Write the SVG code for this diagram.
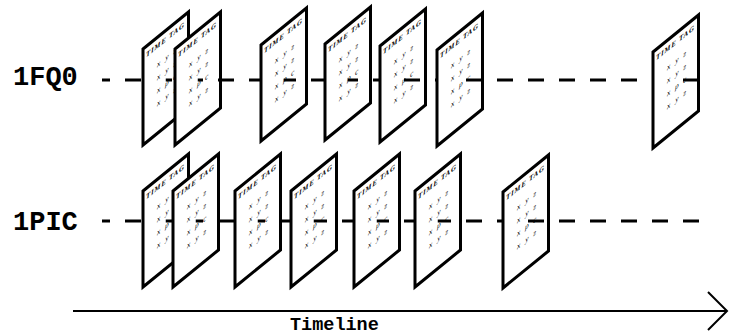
<svg xmlns="http://www.w3.org/2000/svg" width="739" height="336" viewBox="0 0 739 336">
<style>
.sheet{fill:#fff;stroke:#000;stroke-width:3;stroke-linejoin:miter}
.row{stroke:#000;stroke-width:3;stroke-dasharray:16 15;fill:none}
.tag{font-family:"Liberation Serif",serif;font-style:italic;font-weight:bold;font-size:7px;fill:#000}
.d{font-family:"Liberation Serif",serif;font-style:italic;font-size:7.5px;fill:#000;text-anchor:middle}
.lbl{font-family:"Liberation Mono","Courier New",monospace;font-weight:bold;font-size:27px;fill:#000}
.tl{font-family:"Liberation Mono","Courier New",monospace;font-weight:bold;font-size:18.5px;fill:#000}
</style>
<g id="connectors">
<line class="row" x1="102" y1="80" x2="699" y2="80" stroke-dashoffset="8"/>
<line class="row" x1="102" y1="221" x2="700" y2="221" stroke-dashoffset="8"/>
<line x1="73" y1="311" x2="727" y2="311" stroke="#000" stroke-width="2"/>
<polyline points="708,292 727,311 708,330" fill="none" stroke="#000" stroke-width="2"/>
</g>
<g id="label-1FQ0"><text class="lbl" x="13" y="85">1FQ0</text></g>
<g id="label-1PIC"><text class="lbl" x="13" y="230">1PIC</text></g>
<g id="label-timeline"><text class="tl" x="290" y="330">Timeline</text></g>

<g id="fq0-1">
<polygon class="sheet" points="143,49 188.5,12 188.5,108 143,145"/>
<g transform="translate(143,49) skewY(-39.12)"><text class="tag" x="3" y="11" textLength="38" lengthAdjust="spacing">TIME TAG</text><text class="d" x="15.7 24 31.7" y="30">xyz</text><text class="d" x="15.7 24 31.7" y="43">xyz</text><text class="d" x="15.7 24 31.7" y="56">xpc</text><text class="d" x="15.7 24 31.7" y="69">xyz</text></g>
<line class="row" x1="165.75" y1="80" x2="188.5" y2="80" stroke-dashoffset="9.75"/>
</g>
<g id="fq0-2">
<polygon class="sheet" points="175,49 220.5,12 220.5,108 175,145"/>
<g transform="translate(175,49) skewY(-39.12)"><text class="tag" x="3" y="11" textLength="38" lengthAdjust="spacing">TIME TAG</text><text class="d" x="15.7 24 31.7" y="30">xyz</text><text class="d" x="15.7 24 31.7" y="43">xyz</text><text class="d" x="15.7 24 31.7" y="56">xpc</text><text class="d" x="15.7 24 31.7" y="69">xyz</text></g>
<line class="row" x1="197.75" y1="80" x2="220.5" y2="80" stroke-dashoffset="10.75"/>
</g>
<g id="fq0-3">
<polygon class="sheet" points="261,45 306.5,8 306.5,104 261,141"/>
<g transform="translate(261,45) skewY(-39.12)"><text class="tag" x="3" y="11" textLength="38" lengthAdjust="spacing">TIME TAG</text><text class="d" x="15.7 24 31.7" y="30">xyz</text><text class="d" x="15.7 24 31.7" y="43">xyz</text><text class="d" x="15.7 24 31.7" y="56">xpc</text><text class="d" x="15.7 24 31.7" y="69">xyz</text></g>
<line class="row" x1="283.75" y1="80" x2="306.5" y2="80" stroke-dashoffset="3.75"/>
</g>
<g id="fq0-4">
<polygon class="sheet" points="325,44 370.5,7 370.5,103 325,140"/>
<g transform="translate(325,44) skewY(-39.12)"><text class="tag" x="3" y="11" textLength="38" lengthAdjust="spacing">TIME TAG</text><text class="d" x="15.7 24 31.7" y="30">xyz</text><text class="d" x="15.7 24 31.7" y="43">xyz</text><text class="d" x="15.7 24 31.7" y="56">xpc</text><text class="d" x="15.7 24 31.7" y="69">xyz</text></g>
<line class="row" x1="347.75" y1="80" x2="370.5" y2="80" stroke-dashoffset="5.75"/>
</g>
<g id="fq0-5">
<polygon class="sheet" points="380,46 425.5,9 425.5,105 380,142"/>
<g transform="translate(380,46) skewY(-39.12)"><text class="tag" x="3" y="11" textLength="38" lengthAdjust="spacing">TIME TAG</text><text class="d" x="15.7 24 31.7" y="30">xyz</text><text class="d" x="15.7 24 31.7" y="43">xyz</text><text class="d" x="15.7 24 31.7" y="56">xpc</text><text class="d" x="15.7 24 31.7" y="69">xyz</text></g>
<line class="row" x1="402.75" y1="80" x2="425.5" y2="80" stroke-dashoffset="29.75"/>
</g>
<g id="fq0-6">
<polygon class="sheet" points="437,50 482.5,13 482.5,109 437,146"/>
<g transform="translate(437,50) skewY(-39.12)"><text class="tag" x="3" y="11" textLength="38" lengthAdjust="spacing">TIME TAG</text><text class="d" x="15.7 24 31.7" y="30">xyz</text><text class="d" x="15.7 24 31.7" y="43">xyz</text><text class="d" x="15.7 24 31.7" y="56">xpc</text><text class="d" x="15.7 24 31.7" y="69">xyz</text></g>
<line class="row" x1="459.75" y1="80" x2="482.5" y2="80" stroke-dashoffset="24.75"/>
</g>
<g id="fq0-7">
<polygon class="sheet" points="653,52 698.5,15 698.5,111 653,148"/>
<g transform="translate(653,52) skewY(-39.12)"><text class="tag" x="3" y="11" textLength="38" lengthAdjust="spacing">TIME TAG</text><text class="d" x="15.7 24 31.7" y="30">xyz</text><text class="d" x="15.7 24 31.7" y="43">xyz</text><text class="d" x="15.7 24 31.7" y="56">xpc</text><text class="d" x="15.7 24 31.7" y="69">xyz</text></g>
<line class="row" x1="675.75" y1="80" x2="698.5" y2="80" stroke-dashoffset="23.75"/>
</g>

<g id="pic-1">
<polygon class="sheet" points="143,191 188.5,154 188.5,250 143,287"/>
<g transform="translate(143,191) skewY(-39.12)"><text class="tag" x="3" y="11" textLength="38" lengthAdjust="spacing">TIME TAG</text><text class="d" x="15.7 24 31.7" y="30">xyz</text><text class="d" x="15.7 24 31.7" y="43">xyz</text><text class="d" x="15.7 24 31.7" y="56">xpc</text><text class="d" x="15.7 24 31.7" y="69">xyz</text></g>
<line class="row" x1="165.75" y1="221" x2="188.5" y2="221" stroke-dashoffset="9.75"/>
</g>
<g id="pic-2">
<polygon class="sheet" points="173,191 218.5,154 218.5,250 173,287"/>
<g transform="translate(173,191) skewY(-39.12)"><text class="tag" x="3" y="11" textLength="38" lengthAdjust="spacing">TIME TAG</text><text class="d" x="15.7 24 31.7" y="30">xyz</text><text class="d" x="15.7 24 31.7" y="43">xyz</text><text class="d" x="15.7 24 31.7" y="56">xpc</text><text class="d" x="15.7 24 31.7" y="69">xyz</text></g>
<line class="row" x1="195.75" y1="221" x2="218.5" y2="221" stroke-dashoffset="8.75"/>
</g>
<g id="pic-3">
<polygon class="sheet" points="235,191 280.5,154 280.5,250 235,287"/>
<g transform="translate(235,191) skewY(-39.12)"><text class="tag" x="3" y="11" textLength="38" lengthAdjust="spacing">TIME TAG</text><text class="d" x="15.7 24 31.7" y="30">xyz</text><text class="d" x="15.7 24 31.7" y="43">xyz</text><text class="d" x="15.7 24 31.7" y="56">xpc</text><text class="d" x="15.7 24 31.7" y="69">xyz</text></g>
<line class="row" x1="257.75" y1="221" x2="280.5" y2="221" stroke-dashoffset="8.75"/>
</g>
<g id="pic-4">
<polygon class="sheet" points="291,191 336.5,154 336.5,250 291,287"/>
<g transform="translate(291,191) skewY(-39.12)"><text class="tag" x="3" y="11" textLength="38" lengthAdjust="spacing">TIME TAG</text><text class="d" x="15.7 24 31.7" y="30">xyz</text><text class="d" x="15.7 24 31.7" y="43">xyz</text><text class="d" x="15.7 24 31.7" y="56">xpc</text><text class="d" x="15.7 24 31.7" y="69">xyz</text></g>
<line class="row" x1="313.75" y1="221" x2="336.5" y2="221" stroke-dashoffset="2.75"/>
</g>
<g id="pic-5">
<polygon class="sheet" points="354,191 399.5,154 399.5,250 354,287"/>
<g transform="translate(354,191) skewY(-39.12)"><text class="tag" x="3" y="11" textLength="38" lengthAdjust="spacing">TIME TAG</text><text class="d" x="15.7 24 31.7" y="30">xyz</text><text class="d" x="15.7 24 31.7" y="43">xyz</text><text class="d" x="15.7 24 31.7" y="56">xpc</text><text class="d" x="15.7 24 31.7" y="69">xyz</text></g>
<line class="row" x1="376.75" y1="221" x2="399.5" y2="221" stroke-dashoffset="3.75"/>
</g>
<g id="pic-6">
<polygon class="sheet" points="415,191 460.5,154 460.5,250 415,287"/>
<g transform="translate(415,191) skewY(-39.12)"><text class="tag" x="3" y="11" textLength="38" lengthAdjust="spacing">TIME TAG</text><text class="d" x="15.7 24 31.7" y="30">xyz</text><text class="d" x="15.7 24 31.7" y="43">xyz</text><text class="d" x="15.7 24 31.7" y="56">xpc</text><text class="d" x="15.7 24 31.7" y="69">xyz</text></g>
<line class="row" x1="437.75" y1="221" x2="460.5" y2="221" stroke-dashoffset="2.75"/>
</g>
<g id="pic-7">
<polygon class="sheet" points="503,192 548.5,155 548.5,251 503,288"/>
<g transform="translate(503,192) skewY(-39.12)"><text class="tag" x="3" y="11" textLength="38" lengthAdjust="spacing">TIME TAG</text><text class="d" x="15.7 24 31.7" y="30">xyz</text><text class="d" x="15.7 24 31.7" y="43">xyz</text><text class="d" x="15.7 24 31.7" y="56">xpc</text><text class="d" x="15.7 24 31.7" y="69">xyz</text></g>
<line class="row" x1="525.75" y1="221" x2="548.5" y2="221" stroke-dashoffset="28.75"/>
</g>
</svg>
